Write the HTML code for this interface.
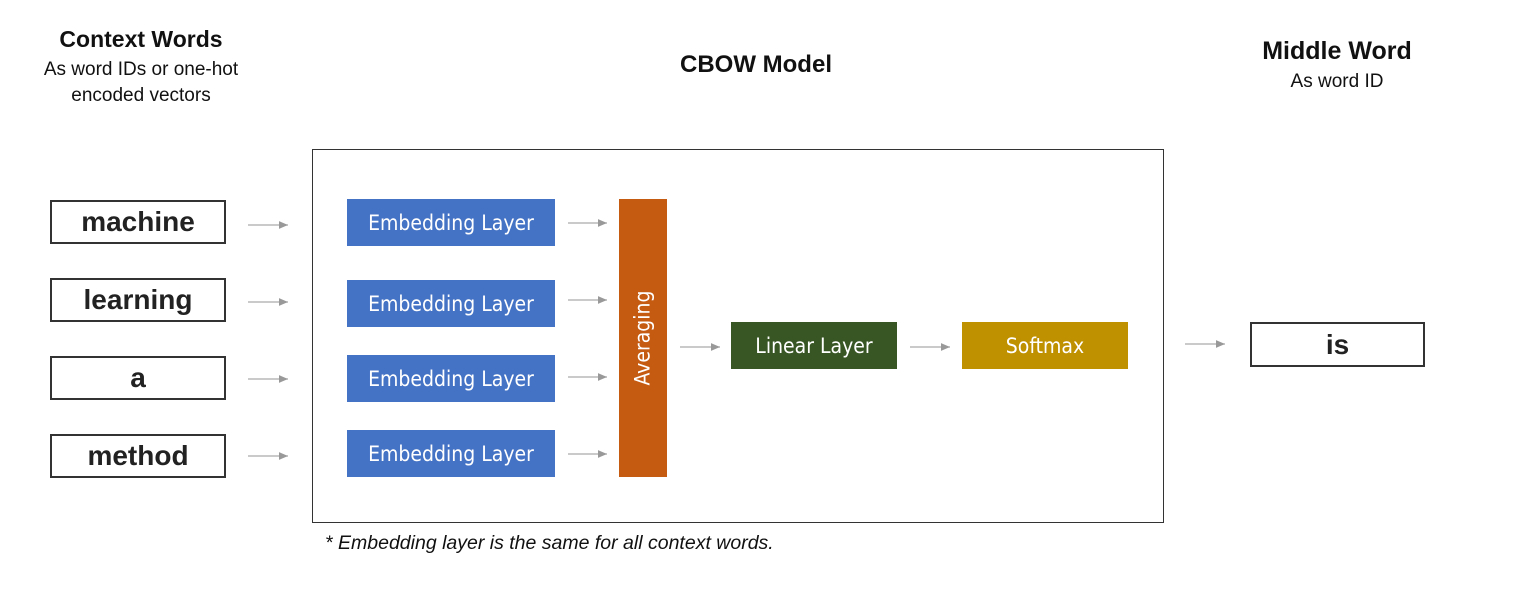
<!DOCTYPE html>
<html><head><style>
body{margin:0;width:1530px;height:594px;background:#fff;position:relative;font-family:"Liberation Sans",sans-serif;overflow:hidden}
.a{position:absolute}
.t{position:absolute;text-align:center;color:#111}
.w{position:absolute;border:2px solid #333;box-sizing:border-box;background:#fff;display:flex;align-items:center;justify-content:center;font-weight:bold;font-size:28px;color:#222}
.b{position:absolute;display:flex;align-items:center;justify-content:center;color:#fff;font-size:21px;font-family:"DejaVu Sans Condensed","Liberation Sans Narrow","Liberation Sans",sans-serif}
.e{background:#4472c4;left:347px;width:208px;height:47px}
</style></head><body>
<div class="t" style="left:20px;width:242px;top:26px;font-weight:bold;font-size:23px">Context Words</div>
<div class="t" style="left:20px;width:242px;top:57px;font-size:19px;line-height:26px">As word IDs or one-hot<br>encoded vectors</div>
<div class="t" style="left:600px;width:312px;top:51px;font-weight:bold;font-size:24px">CBOW Model</div>
<div class="t" style="left:1220px;width:234px;top:37px;font-weight:bold;font-size:25px">Middle Word</div>
<div class="t" style="left:1220px;width:234px;top:71px;font-size:19px">As word ID</div>
<div class="a" style="left:312px;top:149px;width:852px;height:374px;border:1.5px solid #333;box-sizing:border-box"></div>
<div class="w" style="left:50px;top:200px;width:176px;height:44px">machine</div>
<div class="w" style="left:50px;top:278px;width:176px;height:44px">learning</div>
<div class="w" style="left:50px;top:356px;width:176px;height:44px">a</div>
<div class="w" style="left:50px;top:434px;width:176px;height:44px">method</div>
<div class="b e" style="top:199px">Embedding Layer</div>
<div class="b e" style="top:280px">Embedding Layer</div>
<div class="b e" style="top:355px">Embedding Layer</div>
<div class="b e" style="top:430px">Embedding Layer</div>
<div class="b" style="left:619px;top:199px;width:48px;height:278px;background:#c55a11"><span style="transform:rotate(-90deg);white-space:nowrap">Averaging</span></div>
<div class="b" style="left:731px;top:322px;width:166px;height:47px;background:#375623">Linear Layer</div>
<div class="b" style="left:962px;top:322px;width:166px;height:47px;background:#bf9000">Softmax</div>
<div class="w" style="left:1250px;top:322px;width:175px;height:45px">is</div>
<svg class="a" style="left:0;top:0" width="1530" height="594">
<defs><marker id="m" markerWidth="8" markerHeight="8" refX="7" refY="4" orient="auto"><path d="M0,1 L7,4 L0,7z" fill="#999"/></marker></defs>
<g stroke="#aaa" stroke-width="1.3" marker-end="url(#m)">
<line x1="248" y1="225" x2="288" y2="225"/><line x1="248" y1="302" x2="288" y2="302"/>
<line x1="248" y1="379" x2="288" y2="379"/><line x1="248" y1="456" x2="288" y2="456"/>
<line x1="568" y1="223" x2="607" y2="223"/><line x1="568" y1="300" x2="607" y2="300"/>
<line x1="568" y1="377" x2="607" y2="377"/><line x1="568" y1="454" x2="607" y2="454"/>
<line x1="680" y1="347" x2="720" y2="347"/><line x1="910" y1="347" x2="950" y2="347"/>
<line x1="1185" y1="344" x2="1225" y2="344"/></g></svg>
<div class="a" style="left:325px;top:532px;font-style:italic;font-size:19.5px;color:#111">* Embedding layer is the same for all context words.</div>
</body></html>
